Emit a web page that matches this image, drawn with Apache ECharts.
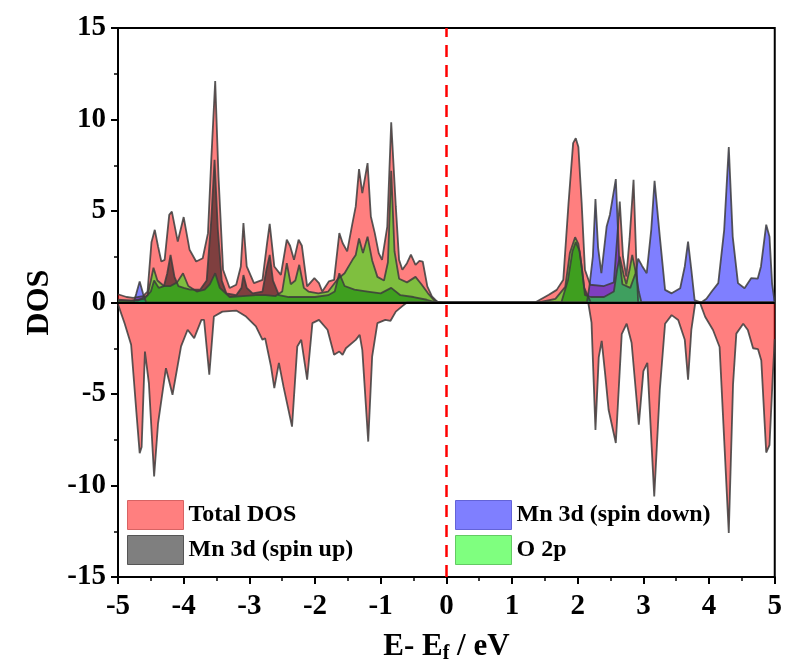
<!DOCTYPE html>
<html lang="en">
<head>
    <meta charset="UTF-8"/>
    <title>DOS</title>
    <script src="https://cdn.jsdelivr.net/npm/echarts@6/dist/echarts.min.js"></script>
</head>
<body style="margin:0">
<div id="main" style="width:785px;height:672px;"></div>
<script type="text/javascript">
    // energy (eV) / DOS pairs
    var totalUp = [[-5,0.45],[-4.87,0.3],[-4.77,0.25],[-4.62,0.35],[-4.55,0.6],[-4.49,3.3],[-4.44,3.97],[-4.39,3.06],[-4.34,2.24],[-4.29,2.33],[-4.22,4.79],[-4.18,4.97],[-4.09,3.33],[-4.0,4.67],[-3.91,2.88],[-3.81,2.24],[-3.71,2.42],[-3.63,3.79],[-3.58,7.8],[-3.52,12.1],[-3.47,6.9],[-3.40,1.79],[-3.30,0.79],[-3.20,0.97],[-3.13,1.97],[-3.09,4.34],[-3.04,1.97],[-2.93,1.06],[-2.80,1.24],[-2.73,3.25],[-2.69,4.3],[-2.62,1.97],[-2.52,1.51],[-2.43,3.43],[-2.38,3.1],[-2.32,2.33],[-2.25,3.43],[-2.20,3.1],[-2.12,0.88],[-2.01,1.33],[-1.94,1.06],[-1.89,0.6],[-1.79,1.15],[-1.71,1.24],[-1.63,3.79],[-1.58,3.25],[-1.51,2.79],[-1.44,4.15],[-1.38,5.25],[-1.33,7.29],[-1.28,5.98],[-1.20,7.62],[-1.15,4.7],[-1.09,3.79],[-1.03,2.7],[-0.98,2.33],[-0.90,4.15],[-0.84,9.85],[-0.77,5.25],[-0.72,2.33],[-0.67,1.79],[-0.60,2.15],[-0.54,2.61],[-0.47,2.06],[-0.41,2.28],[-0.36,2.24],[-0.29,0.88],[-0.22,0.33],[-0.14,0.05],[-0.05,0],[1.35,0],[1.56,0.42],[1.68,0.69],[1.78,1.24],[1.86,5.43],[1.93,8.71],[1.97,8.98],[2.01,8.5],[2.06,5.43],[2.11,1.79],[2.19,0.97],[2.4,0.9],[2.55,1.1],[2.6,3.5],[2.64,5.52],[2.69,2.5],[2.74,1.42],[2.79,3.5],[2.85,6.7],[2.89,2.5],[2.92,0],[5,0]];

    var totalDown = [[-5,-0.1],[-4.90,-1.13],[-4.80,-2.31],[-4.72,-6.0],[-4.67,-8.23],[-4.64,-7.9],[-4.59,-2.68],[-4.53,-4.4],[-4.45,-9.51],[-4.39,-6.6],[-4.27,-3.59],[-4.17,-5.04],[-4.04,-2.4],[-3.94,-1.49],[-3.84,-1.95],[-3.73,-0.95],[-3.69,-0.95],[-3.61,-3.95],[-3.54,-0.77],[-3.41,-0.5],[-3.20,-0.44],[-3.05,-0.77],[-2.90,-1.31],[-2.80,-2.04],[-2.76,-1.95],[-2.67,-3.5],[-2.62,-4.68],[-2.55,-3.3],[-2.48,-4.6],[-2.35,-6.78],[-2.27,-2.4],[-2.21,-2.04],[-2.12,-4.22],[-2.04,-1.13],[-1.94,-0.95],[-1.81,-1.49],[-1.71,-2.86],[-1.63,-2.68],[-1.58,-2.86],[-1.53,-2.5],[-1.38,-2.04],[-1.32,-1.77],[-1.28,-2.6],[-1.19,-7.6],[-1.13,-2.95],[-1.05,-1.13],[-0.93,-0.95],[-0.85,-1.0],[-0.77,-0.5],[-0.67,-0.2],[-0.60,0],[2.16,0],[2.21,-1.1],[2.27,-6.96],[2.32,-3.0],[2.365,-2.1],[2.42,-4.0],[2.47,-5.86],[2.58,-7.68],[2.67,-1.73],[2.745,-1.16],[2.82,-2.2],[2.93,-6.68],[3.0,-3.75],[3.06,-3.3],[3.165,-10.6],[3.25,-4.77],[3.33,-1.16],[3.43,-0.69],[3.53,-0.96],[3.63,-2.04],[3.68,-4.22],[3.73,-1.5],[3.79,0],[3.86,0],[3.94,-0.78],[4.06,-1.5],[4.16,-2.43],[4.23,-7.5],[4.30,-12.6],[4.365,-4.48],[4.415,-1.7],[4.52,-1.16],[4.59,-1.5],[4.67,-2.5],[4.745,-2.55],[4.795,-3.17],[4.87,-8.2],[4.92,-7.8],[4.97,-4],[5,-2]];

    var mnUp = [[-5,0.15],[-4.8,0.1],[-4.6,0.2],[-4.5,0.6],[-4.45,1.2],[-4.38,0.8],[-4.3,0.9],[-4.25,1.6],[-4.2,2.6],[-4.14,1.4],[-4.08,0.9],[-4.0,0.8],[-3.9,0.7],[-3.75,0.7],[-3.65,1.2],[-3.58,4.5],[-3.53,7.8],[-3.48,4.0],[-3.42,1.2],[-3.35,0.5],[-3.2,0.4],[-3.12,0.8],[-3.09,1.5],[-3.04,0.8],[-2.95,0.5],[-2.8,0.6],[-2.74,1.8],[-2.69,2.6],[-2.64,1.2],[-2.55,0.4],[-2.4,0.3],[-2.2,0.3],[-2.0,0.3],[-1.8,0.4],[-1.7,0.6],[-1.63,1.6],[-1.55,0.9],[-1.4,0.7],[-1.2,0.6],[-1.0,0.5],[-0.84,0.8],[-0.7,0.4],[-0.5,0.3],[-0.3,0.15],[-0.15,0],[1.75,0],[1.85,1.2],[1.92,2.8],[1.97,3.3],[2.03,2.8],[2.1,0.8],[2.2,0],[5,0]];

    var mnDown = [[-5,0],[-4.76,0],[-4.72,0.5],[-4.67,1.15],[-4.62,0.5],[-4.57,0],[2.14,0],[2.18,0.95],[2.23,2.5],[2.27,5.65],[2.31,3.0],[2.36,1.6],[2.44,4.15],[2.49,4.8],[2.58,6.74],[2.63,2.5],[2.68,1.0],[2.8,0.8],[2.88,1.6],[2.92,2.4],[2.98,2.0],[3.05,1.6],[3.12,4.0],[3.17,6.65],[3.25,3.6],[3.33,0.69],[3.43,0.5],[3.56,0.78],[3.63,1.97],[3.68,3.33],[3.73,1.79],[3.78,0.13],[3.88,0],[3.96,0.2],[4.04,0.6],[4.14,1.06],[4.23,3.97],[4.30,8.5],[4.36,3.6],[4.44,1.06],[4.54,0.78],[4.64,1.33],[4.74,1.3],[4.79,1.97],[4.87,4.25],[4.92,3.6],[4.96,1.0],[5,0]];

    var o2p = [[-5,0.1],[-4.7,0.1],[-4.55,0.4],[-4.5,1.2],[-4.46,1.9],[-4.4,1.2],[-4.3,0.9],[-4.2,0.9],[-4.1,1.1],[-4.01,1.6],[-3.93,0.9],[-3.8,0.6],[-3.68,0.7],[-3.6,1.0],[-3.52,1.6],[-3.45,0.8],[-3.3,0.3],[-3.1,0.35],[-2.9,0.4],[-2.75,0.4],[-2.6,0.35],[-2.5,0.6],[-2.43,2.15],[-2.37,1.0],[-2.3,1.2],[-2.24,2.06],[-2.17,0.8],[-2.1,0.6],[-1.95,0.5],[-1.8,0.6],[-1.65,1.3],[-1.55,1.6],[-1.43,2.33],[-1.38,2.6],[-1.33,3.5],[-1.27,2.7],[-1.2,3.6],[-1.13,2.3],[-1.05,1.4],[-0.95,1.2],[-0.89,2.2],[-0.84,7.2],[-0.79,2.8],[-0.72,1.3],[-0.6,1.1],[-0.47,1.4],[-0.38,1.0],[-0.28,0.5],[-0.18,0.1],[-0.1,0],[1.4,0],[1.66,0.2],[1.81,0.85],[1.88,2.7],[1.96,3.57],[2.01,3.2],[2.06,1.97],[2.11,0.4],[2.2,0.3],[2.4,0.3],[2.55,0.6],[2.6,1.8],[2.64,2.5],[2.7,1.5],[2.74,1.0],[2.79,1.8],[2.83,2.6],[2.88,1.7],[2.93,0.6],[2.97,0],[5,0]];

    var font = 'Liberation Serif';
    var edge = 'rgba(60,60,60,0.85)';

    var pink = 'rgba(255,0,0,0.5)';
    var gray = 'rgba(0,0,0,0.5)';
    var blue = 'rgba(0,0,255,0.5)';
    var green = 'rgba(0,255,0,0.5)';

    function area(name, data, color) {
        return {
            name: name,
            type: 'line',
            data: data,
            showSymbol: false,
            silent: true,
            lineStyle: {color: edge, width: 1.8},
            itemStyle: {color: color},
            areaStyle: {color: color, opacity: 1}
        };
    }

    var myChart = echarts.init(document.getElementById('main'));

    var legendText = {fontFamily: font, fontWeight: 'bold', fontSize: 24, color: '#000'};

    var series = [
        area('Total DOS', totalUp, pink),
        area('Total DOS', totalDown, pink),
        area('Mn 3d (spin up)', mnUp, gray),
        area('Mn 3d (spin down)', mnDown, blue),
        area('O 2p', o2p, green)
    ];

    // zero line and Fermi level
    series[4].markLine = {
        silent: true,
        symbol: 'none',
        label: {show: false},
        data: [
            {yAxis: 0, lineStyle: {color: '#000', width: 2, type: 'solid'}},
            {xAxis: 0, lineStyle: {color: '#ff0000', width: 2.5, type: [12, 8]}}
        ]
    };

    var option = {
        animation: false,
        backgroundColor: '#fff',
        grid: {left: 118, right: 8, top: 28, bottom: 95, show: true, borderColor: '#000', borderWidth: 2},
        legend: [
            {
                orient: 'vertical', left: 122, top: 495,
                itemWidth: 56, itemHeight: 29, itemGap: 5,
                textStyle: legendText,
                data: [
                    {name: 'Total DOS', icon: 'rect', itemStyle: {color: pink, borderColor: 'rgba(200,60,60,0.7)', borderWidth: 1}},
                    {name: 'Mn 3d (spin up)', icon: 'rect', itemStyle: {color: gray, borderColor: 'rgba(40,40,40,0.7)', borderWidth: 1}}
                ]
            },
            {
                orient: 'vertical', left: 450, top: 495,
                itemWidth: 56, itemHeight: 29, itemGap: 5,
                textStyle: legendText,
                data: [
                    {name: 'Mn 3d (spin down)', icon: 'rect', itemStyle: {color: blue, borderColor: 'rgba(60,60,200,0.7)', borderWidth: 1}},
                    {name: 'O 2p', icon: 'rect', itemStyle: {color: green, borderColor: 'rgba(60,180,60,0.7)', borderWidth: 1}}
                ]
            }
        ],
        xAxis: {
            type: 'value',
            min: -5,
            max: 5,
            interval: 1,
            name: '{a|E- E}{s|f}{a| / eV}',
            nameLocation: 'middle',
            nameGap: 52,
            nameTextStyle: {
                rich: {
                    a: {fontFamily: font, fontWeight: 'bold', fontSize: 31, color: '#000', lineHeight: 32, verticalAlign: 'top'},
                    s: {fontFamily: font, fontWeight: 'bold', fontSize: 20, color: '#000', lineHeight: 20, padding: [18, 0, 0, 0], verticalAlign: 'bottom'}
                }
            },
            splitLine: {show: false},
            axisLine: {onZero: false, lineStyle: {color: '#000', width: 2}},
            axisTick: {length: 7, lineStyle: {width: 2}},
            minorTick: {show: true, splitNumber: 2, length: 4, lineStyle: {color: '#000', width: 1.5}},
            axisLabel: {fontFamily: font, fontWeight: 'bold', fontSize: 29, color: '#000', margin: 15}
        },
        yAxis: {
            type: 'value',
            min: -15,
            max: 15,
            interval: 5,
            name: 'DOS',
            nameLocation: 'middle',
            nameGap: 62,
            nameTextStyle: {fontFamily: font, fontWeight: 'bold', fontSize: 32, color: '#000'},
            splitLine: {show: false},
            axisLine: {onZero: false, lineStyle: {color: '#000', width: 2}},
            axisTick: {length: 7, lineStyle: {width: 2}},
            minorTick: {show: true, splitNumber: 2, length: 4, lineStyle: {color: '#000', width: 1.5}},
            axisLabel: {fontFamily: font, fontWeight: 'bold', fontSize: 29, color: '#000', margin: 12}
        },
        series: series
    };

    myChart.setOption(option);
</script>
</body>
</html>
